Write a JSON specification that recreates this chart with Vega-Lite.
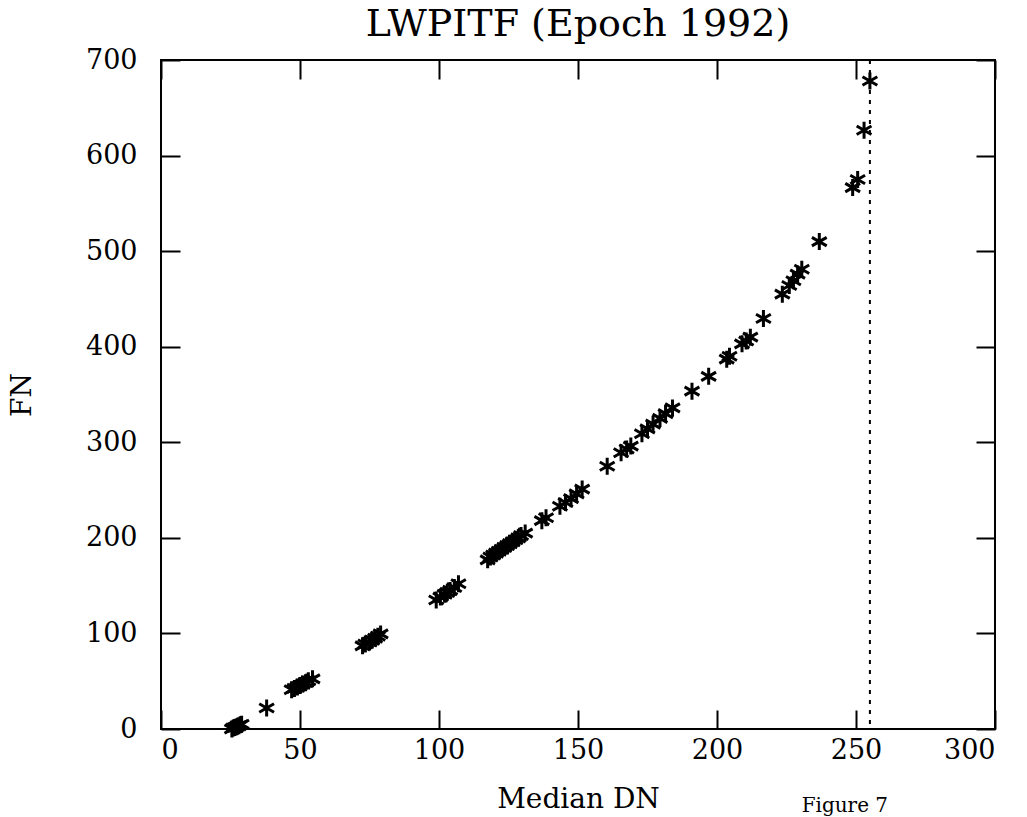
{
  "$schema": "https://vega.github.io/schema/vega-lite/v6.json",
  "autosize": "none",
  "width": 834,
  "height": 669,
  "padding": {"left": 161, "top": 60, "right": 32, "bottom": 88},
  "background": "white",
  "config": {
    "view": {"stroke": "black", "strokeWidth": 2},
    "font": "DejaVu Serif",
    "axis": {"grid": false, "domain": false, "tickColor": "black", "tickWidth": 2, "tickSize": -19,
             "labelColor": "black", "labelFont": "DejaVu Serif", "labelFontSize": 27, "labelFontWeight": "normal",
             "titleColor": "black", "titleFont": "DejaVu Serif", "titleFontSize": 28, "titleFontWeight": "normal"}
  },
  "title": {"text": "LWPITF (Epoch 1992)", "font": "DejaVu Serif", "fontSize": 38, "fontWeight": "normal", "color": "black", "anchor": "middle", "offset": 2},
  "datasets": {
    "pts": [
      {"dn": 25.5, "fn": 0}, {"dn": 26, "fn": 1}, {"dn": 26.5, "fn": 1.5}, {"dn": 27, "fn": 2}, {"dn": 27.5, "fn": 3}, {"dn": 28, "fn": 3.5}, {"dn": 28.5, "fn": 4.5}, {"dn": 29, "fn": 5},
      {"dn": 38, "fn": 22},
      {"dn": 47, "fn": 41}, {"dn": 48, "fn": 42.5}, {"dn": 49, "fn": 44}, {"dn": 50, "fn": 45.5}, {"dn": 51, "fn": 47}, {"dn": 52, "fn": 48.5}, {"dn": 53, "fn": 50.5}, {"dn": 54.5, "fn": 52.5},
      {"dn": 72.5, "fn": 87}, {"dn": 73.5, "fn": 89}, {"dn": 75, "fn": 91}, {"dn": 76, "fn": 93}, {"dn": 77, "fn": 95}, {"dn": 78, "fn": 97}, {"dn": 79, "fn": 99.5},
      {"dn": 99, "fn": 135}, {"dn": 100.5, "fn": 138}, {"dn": 102, "fn": 141}, {"dn": 103, "fn": 143}, {"dn": 104, "fn": 145}, {"dn": 105.5, "fn": 148}, {"dn": 107, "fn": 152},
      {"dn": 117.5, "fn": 177}, {"dn": 118.5, "fn": 180}, {"dn": 119.5, "fn": 182}, {"dn": 120.5, "fn": 184}, {"dn": 121.5, "fn": 186}, {"dn": 122.5, "fn": 188}, {"dn": 123.5, "fn": 190}, {"dn": 124.5, "fn": 192}, {"dn": 125.5, "fn": 194}, {"dn": 126.5, "fn": 196}, {"dn": 127.5, "fn": 198}, {"dn": 128.5, "fn": 200}, {"dn": 129.5, "fn": 202.5}, {"dn": 131, "fn": 205},
      {"dn": 137, "fn": 218}, {"dn": 138.5, "fn": 221}, {"dn": 143.5, "fn": 233}, {"dn": 145.5, "fn": 237}, {"dn": 147.5, "fn": 241}, {"dn": 149.5, "fn": 246}, {"dn": 151.5, "fn": 251},
      {"dn": 160.5, "fn": 275}, {"dn": 165.5, "fn": 289}, {"dn": 167.5, "fn": 293}, {"dn": 169, "fn": 296}, {"dn": 173, "fn": 309}, {"dn": 175, "fn": 314}, {"dn": 177, "fn": 319}, {"dn": 179.5, "fn": 325}, {"dn": 181.5, "fn": 330}, {"dn": 184, "fn": 336},
      {"dn": 191, "fn": 353.5}, {"dn": 197, "fn": 369}, {"dn": 203.5, "fn": 387}, {"dn": 204.5, "fn": 390}, {"dn": 209, "fn": 403}, {"dn": 210.5, "fn": 406}, {"dn": 212, "fn": 410}, {"dn": 216.7, "fn": 429.5},
      {"dn": 223.5, "fn": 455}, {"dn": 226, "fn": 464}, {"dn": 227.5, "fn": 469}, {"dn": 229, "fn": 476}, {"dn": 230.5, "fn": 481},
      {"dn": 236.8, "fn": 510},
      {"dn": 248.8, "fn": 566.5}, {"dn": 250.6, "fn": 575},
      {"dn": 252.9, "fn": 626.5},
      {"dn": 255, "fn": 678}
    ],
    "limit": [{"dn": 255}],
    "caption": [{"dn": 246, "fn": -81, "label": "Figure 7"}]
  },
  "layer": [
    {
      "data": {"name": "limit"},
      "mark": {"type": "rule", "stroke": "black", "strokeWidth": 2, "strokeDash": [4, 6]},
      "encoding": {
        "x": {"field": "dn", "type": "quantitative", "scale": {"domain": [0, 300], "nice": false},
              "axis": {"orient": "top", "labels": false, "title": null, "values": [0, 50, 100, 150, 200, 250, 300]}}
      }
    },
    {
      "data": {"name": "pts"},
      "mark": {"type": "point", "shape": "M0,-1L0,1M-0.87,-0.5L0.87,0.5M-0.87,0.5L0.87,-0.5", "size": 289, "stroke": "black", "strokeWidth": 3, "filled": false, "opacity": 1},
      "encoding": {
        "x": {"field": "dn", "type": "quantitative", "scale": {"domain": [0, 300], "nice": false},
              "axis": {"orient": "bottom", "title": "Median DN", "values": [0, 50, 100, 150, 200, 250, 300], "labelPadding": 27, "titlePadding": 22}},
        "y": {"field": "fn", "type": "quantitative", "scale": {"domain": [0, 700], "nice": false},
              "axis": {"orient": "left", "title": "FN", "values": [0, 100, 200, 300, 400, 500, 600, 700], "labelPadding": 43, "titlePadding": 49}}
      }
    },
    {
      "data": {"name": "pts"},
      "mark": {"type": "point", "opacity": 0},
      "encoding": {
        "x": {"field": "dn", "type": "quantitative", "axis": null},
        "y": {"field": "fn", "type": "quantitative",
              "axis": {"orient": "right", "labels": false, "title": null, "values": [0, 100, 200, 300, 400, 500, 600, 700]}}
      }
    },
    {
      "data": {"name": "caption"},
      "mark": {"type": "text", "font": "DejaVu Serif", "fontSize": 20, "color": "black", "clip": false},
      "encoding": {
        "x": {"field": "dn", "type": "quantitative", "axis": null},
        "y": {"field": "fn", "type": "quantitative", "axis": null},
        "text": {"field": "label"}
      }
    }
  ],
  "resolve": {"axis": {"x": "independent", "y": "independent"}}
}
